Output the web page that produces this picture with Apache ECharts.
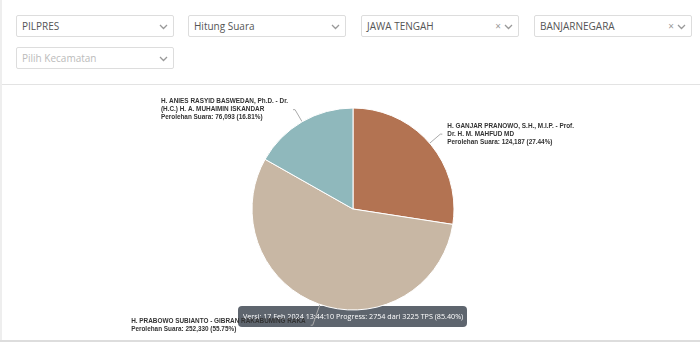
<!DOCTYPE html>
<html>
<head>
<meta charset="utf-8">
<script src="https://cdn.jsdelivr.net/npm/echarts@6/dist/echarts.min.js"></script>
<style>
  body { margin: 0; width: 700px; height: 342px; background: #fff; font-family: "Open Sans", sans-serif; overflow: hidden; }
  .wrap { position: absolute; left: 0; top: 0; width: 700px; height: 342px; border-left: 2px solid #eee; box-sizing: border-box; }
  .header { position: absolute; left: 0; top: 0; width: 700px; height: 85px; border-bottom: 1px solid #e3e3e3; box-sizing: border-box; }
  .sel { position: absolute; height: 22px; border: 1px solid #ddd; border-radius: 2px; box-sizing: border-box; font-size: 10px; color: #555; line-height: 20px; padding-left: 5px; }
  .sel.ph { color: #bbb; }
  .sel svg { position: absolute; right: 5px; top: 8px; }
  .sel .x { position: absolute; right: 17px; top: 0; color: #999; font-size: 10px; }
  #chart { position: absolute; left: 0; top: 86px; width: 700px; height: 254px; }
  .foot { position: absolute; left: 0; top: 340px; width: 700px; height: 2px; background: #ddd; }
</style>
</head>
<body>
<div class="wrap">
<div class="header">
  <div class="sel" style="left:14px;top:15px;width:158px">PILPRES<svg width="9" height="6"><polyline points="1,1 4.5,4.5 8,1" fill="none" stroke="#999" stroke-width="1.3"/></svg></div>
  <div class="sel" style="left:186px;top:15px;width:158px">Hitung Suara<svg width="9" height="6"><polyline points="1,1 4.5,4.5 8,1" fill="none" stroke="#999" stroke-width="1.3"/></svg></div>
  <div class="sel" style="left:359px;top:15px;width:158px">JAWA TENGAH<span class="x">&#x00d7;</span><svg width="9" height="6"><polyline points="1,1 4.5,4.5 8,1" fill="none" stroke="#999" stroke-width="1.3"/></svg></div>
  <div class="sel" style="left:532px;top:15px;width:158px">BANJARNEGARA<span class="x">&#x00d7;</span><svg width="9" height="6"><polyline points="1,1 4.5,4.5 8,1" fill="none" stroke="#999" stroke-width="1.3"/></svg></div>
  <div class="sel ph" style="left:14px;top:47px;width:158px">Pilih Kecamatan<svg width="9" height="6"><polyline points="1,1 4.5,4.5 8,1" fill="none" stroke="#999" stroke-width="1.3"/></svg></div>
</div>
</div>
<div id="chart"></div>
<div class="foot"></div>
<script>
const candidates = [
  'H. GANJAR PRANOWO, S.H., M.I.P. - Prof.\nDr. H. M. MAHFUD MD',
  'H. PRABOWO SUBIANTO - GIBRAN RAKABUMING RAKA',
  'H. ANIES RASYID BASWEDAN, Ph.D. - Dr.\n(H.C.) H. A. MUHAIMIN ISKANDAR'
]
const votes = [124187, 252330, 76093]
const colors = ['#b37352', '#c8b7a4', '#8fb8bc']
const versionText = 'Versi: 17 Feb 2024 13:44:10 Progress: 2754 dari 3225 TPS (85.40%)'

const chart = echarts.init(document.getElementById('chart'))
const total = votes.reduce((a, b) => a + b, 0)

chart.setOption({
  animation: false,
  series: [
    {
      type: 'pie',
      center: [353, 123],
      radius: 101,
      startAngle: 90,
      data: candidates.map((name, i) => ({
        name,
        value: votes[i],
        itemStyle: { color: colors[i] },
        // prabowo's label sits lower in the original
        labelLine: i === 1 ? { length: 22 } : undefined
      })),
      itemStyle: { borderColor: '#fff', borderWidth: 1 },
      label: {
        show: true,
        formatter: p => {
          const pct = (p.value / total * 100).toFixed(2)
          const lines = p.name.split('\n').map(s => `{n|${s}}`)
          lines.push(`{n|Perolehan Suara: ${p.value.toLocaleString('en-US')} (${pct}%)}`)
          return lines.join('\n')
        },
        rich: {
          n: {
            fontFamily: 'Arial, "Liberation Sans", sans-serif',
            fontSize: 6.4,
            fontWeight: 'bold',
            color: '#333',
            lineHeight: 8,
            align: 'left'
          }
        }
      },
      labelLine: {
        length: 14,
        length2: 2,
        lineStyle: { color: '#aaa', width: 1 }
      }
    }
  ],
  graphic: [
    {
      type: 'group',
      left: 238,
      top: 220,
      z: 100,
      children: [
        {
          type: 'rect',
          shape: { x: 0, y: 0, width: 229, height: 21, r: 4 },
          style: { fill: 'rgba(80,88,98,0.92)' }
        },
        {
          type: 'text',
          x: 5,
          y: 11,
          style: {
            text: versionText,
            fill: '#fff',
            font: '7.2px "Open Sans", sans-serif',
            verticalAlign: 'middle'
          }
        }
      ]
    }
  ]
})
</script>
</body>
</html>
